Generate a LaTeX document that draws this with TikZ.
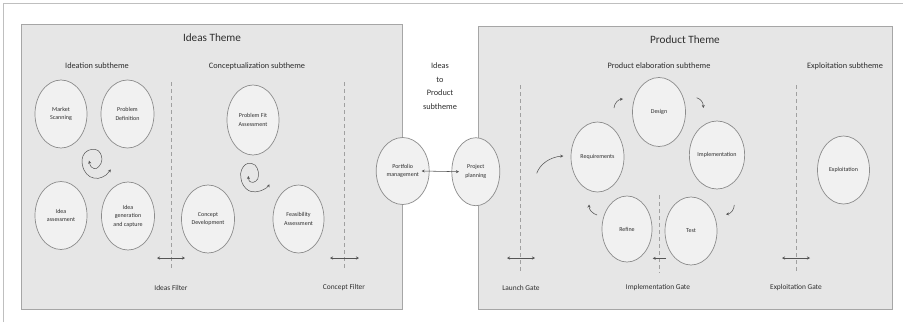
\documentclass[tikz,border=0pt]{standalone}
\usepackage{fontspec}
\setmainfont{Carlito}
\usetikzlibrary{shapes.geometric,arrows.meta}
\definecolor{panelfill}{HTML}{E6E6E6}
\definecolor{panelline}{HTML}{A6A6A6}
\definecolor{ellfill}{HTML}{F1F1F1}
\definecolor{ellline}{HTML}{8C8C8C}
\definecolor{txt}{HTML}{2E2E2E}
\definecolor{dashc}{HTML}{A0A0A0}
\definecolor{conn}{HTML}{555555}
\tikzset{
  panel/.style={draw=panelline, fill=panelfill, line width=0.8pt},
  proc/.style={ellipse, draw=ellline, fill=ellfill, line width=0.7pt, inner sep=0pt,
    minimum width=52pt, minimum height=68pt, align=center, text=txt,
    font=\fontsize{6}{8.6}\selectfont},
  ttl/.style={text=txt, font=\fontsize{11.2}{13}\selectfont},
  subttl/.style={text=txt, font=\fontsize{8.3}{10}\selectfont},
  gatelbl/.style={text=txt, font=\fontsize{7.4}{9}\selectfont},
  gateline/.style={draw=dashc, line width=0.7pt, dash pattern=on 4pt off 3pt},
  tip/.style={line width=0.55pt, draw=conn},
  dbl/.style={tip, {Stealth[length=3pt,width=3pt]}-{Stealth[length=3pt,width=3pt]}},
  one/.style={tip, -{Stealth[length=3pt,width=3pt]}},
}
\begin{document}
\begin{tikzpicture}[x=1pt,y=-1pt]
\useasboundingbox (0,0) rectangle (903,322);
\fill[white] (0,0) rectangle (903,322);
% outer frame
\draw[draw=black!25, line width=1.2pt] (3.5,322) -- (3.5,3.5) -- (903,3.5);
% panels
\draw[panel] (21,24.5) rectangle (402,309);
\draw[panel] (478,26) rectangle (892,309);
% titles
\node[ttl] (tIdeas) at (212,38) {Ideas Theme};
\node[ttl] (tProd) at (685,40) {Product Theme};
\node[subttl] (sIdea) at (97,66) {Ideation subtheme};
\node[subttl] (sConc) at (257,66) {Conceptualization subtheme};
\node[subttl] (sElab) at (659,66) {Product elaboration subtheme};
\node[subttl] (sExpl) at (845,66) {Exploitation subtheme};
\node[subttl, align=center, font=\fontsize{8.3}{13.5}\selectfont] (sI2P) at (440,86) {Ideas\\to\\Product\\subtheme};
% gates
\coordinate (g1t) at (171,82); \coordinate (g1b) at (171,269);
\coordinate (g2t) at (344,82); \coordinate (g2b) at (344,269);
\coordinate (g3t) at (520.7,85); \coordinate (g3b) at (520.7,273);
\coordinate (g4t) at (659,195); \coordinate (g4b) at (659,273);
\coordinate (g5t) at (796,85); \coordinate (g5b) at (796,273);
\draw[gateline] (g1t) -- (g1b);
\draw[gateline] (g2t) -- (g2b);
\draw[gateline] (g3t) -- (g3b);
\draw[gateline] (g4t) -- (g4b);
\draw[gateline] (g5t) -- (g5b);
\coordinate (a1l) at (157,258); \coordinate (a1r) at (185,258);
\coordinate (a2l) at (330,258); \coordinate (a2r) at (359,258);
\coordinate (a3l) at (507,258); \coordinate (a3r) at (535,258);
\coordinate (a4l) at (652.7,258.3); \coordinate (a4r) at (666,258.3);
\coordinate (a5l) at (782,258); \coordinate (a5r) at (810,258);
\draw[dbl] (a1l) -- (a1r);
\draw[dbl] (a2l) -- (a2r);
\draw[dbl] (a3l) -- (a3r);
\draw[one] (a4r) -- (a4l);
\draw[dbl] (a5l) -- (a5r);
\node[gatelbl] (l1) at (171,288) {Ideas Filter};
\node[gatelbl] (l2) at (344,288) {Concept Filter};
\node[gatelbl] (l3) at (521,288) {Launch Gate};
\node[gatelbl] (l4) at (658,288) {Implementation Gate};
\node[gatelbl] (l5) at (796,288) {Exploitation Gate};
% ellipses
\node[proc] (MS) at (61,114) {Market\\Scanning};
\node[proc, minimum width=53pt] (PD) at (127.5,114) {Problem\\Definition};
\node[proc, minimum height=70pt] (PFA) at (253,120) {Problem Fit\\Assessment};
\node[proc] (IA) at (61,215.5) {Idea\\assessment};
\node[proc, minimum width=53pt] (IG) at (128,216) {Idea\\generation\\and capture};
\node[proc, minimum width=53pt] (CD) at (208,219) {Concept\\Development};
\node[proc, minimum width=51pt] (FA) at (298.5,219) {Feasibility\\Assessment};
\node[proc, minimum width=53pt, minimum height=67pt] (PM) at (402.7,171) {Portfolio\\management};
\node[proc, minimum width=48pt] (PP) at (475.8,171.7) {Project\\planning};
\node[proc, minimum width=53pt, minimum height=70pt] (REQ) at (597.5,157) {Requirements};
\node[proc, minimum width=53pt, minimum height=69pt] (DES) at (659,112) {Design};
\node[proc] (IMP) at (717,155) {Implementation};
\node[proc] (TST) at (691,231) {Test};
\node[proc, minimum width=50pt, minimum height=66pt] (REF) at (627,229) {Refine};
\node[proc] (EXP) at (843.5,170) {Exploitation};
% connector between portfolio and project
\draw[dbl] ([xshift=19pt]PM.center) -- ([xshift=-16.8pt]PP.center);
% spirals
\draw[dbl, line width=0.5pt] plot[smooth, tension=0.6] coordinates {(89,160.7) (91.7,167.3) (96.7,168.3) (101,163.3) (101.7,156.7) (98.3,150.7) (91.7,149.3) (85,152.7) (82,160) (84,170) (90,176.7) (98.3,178.3) (106,175) (110.7,169.3)};
\draw[dbl, line width=0.5pt] plot[smooth, tension=0.6] coordinates {(248.3,176) (249.3,181) (253.3,182.3) (257.7,179) (258.3,171.7) (255,165) (248.3,163.3) (243.3,166.7) (240.7,173.3) (241.7,181.7) (245.7,188.3) (251.7,191.7) (260,191) (266.7,187.7) (269.3,184.3)};
% cycle arrows
\coordinate (c1s) at (536.7,173.3); \coordinate (c1e) at (563.3,156);
\draw[one] (c1s) .. controls (540,164) and (550,157) .. (c1e);
\coordinate (c2s) at (614,108); \coordinate (c2e) at (623,99);
\draw[one] (c2s) .. controls (614.5,103) and (618,99.5) .. (c2e);
\coordinate (c3s) at (696.7,97.7); \coordinate (c3e) at (703.3,108);
\draw[one] (c3s) .. controls (700.5,99) and (703.3,102) .. (c3e);
\coordinate (c4s) at (734.3,205); \coordinate (c4e) at (726,214.3);
\draw[one] (c4s) .. controls (734,210) and (731,213.5) .. (c4e);
\coordinate (c5s) at (597,215); \coordinate (c5e) at (589,204.5);
\draw[one] (c5s) .. controls (592.5,213.5) and (589,210) .. (c5e);
\end{tikzpicture}
\end{document}
